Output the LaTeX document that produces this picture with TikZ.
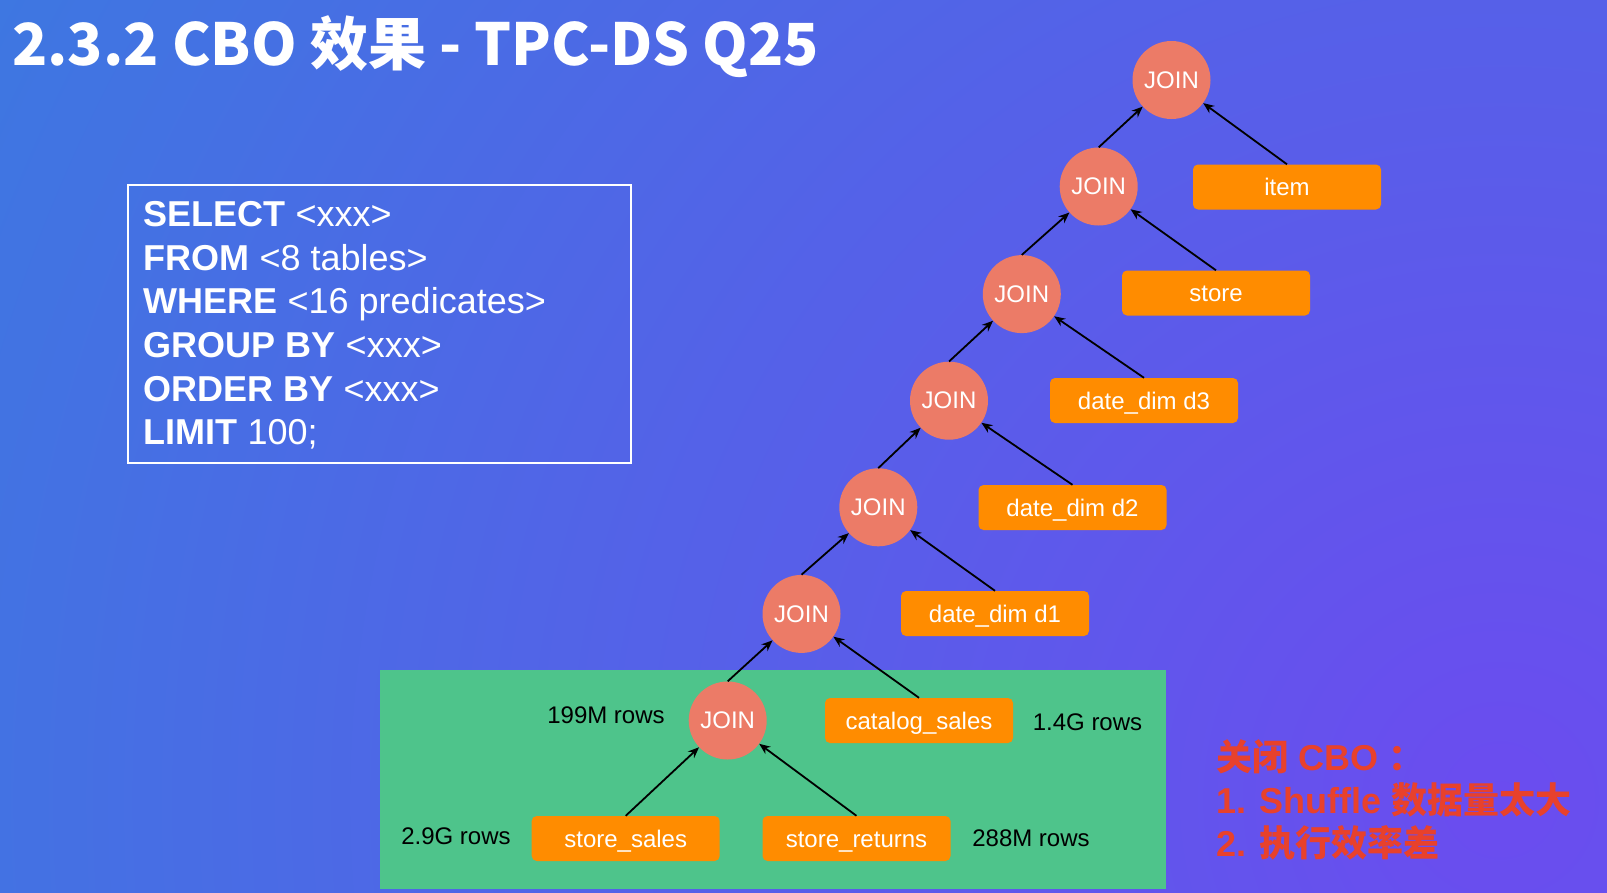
\documentclass[tikz,border=0pt]{standalone}
\usepackage{fontspec}
\setmainfont{Liberation Sans}
\newfontfamily\cjk{Noto Sans CJK SC}
\usetikzlibrary{arrows.meta}
\definecolor{bgblue}{RGB}{46,134,220}
\definecolor{bgpurple}{RGB}{107,76,239}
\definecolor{joinfill}{RGB}{236,123,103}
\definecolor{tblfill}{RGB}{255,140,0}
\definecolor{greenbg}{RGB}{78,196,139}
\definecolor{redtxt}{RGB}{232,65,44}
\tikzset{
  joinnode/.style={circle, fill=joinfill, minimum size=78pt, inner sep=0pt, text=white, font=\fontsize{24}{28}\selectfont},
  tblnode/.style={rectangle, rounded corners=5pt, fill=tblfill, minimum width=188pt, minimum height=45pt, inner sep=0pt, text=white, text height=17pt, text depth=0pt, font=\fontsize{24}{28}\selectfont},
  rowlabel/.style={text=black, inner sep=0pt, font=\fontsize{24}{28}\selectfont},
  sqlline/.style={anchor=base west, text=white, inner sep=0pt, font=\fontsize{36}{43}\selectfont},
  redline/.style={anchor=base west, text=redtxt, inner sep=0pt, font=\fontsize{36}{43}\selectfont\bfseries},
  edge/.style={line width=1.8pt, -{Stealth[length=11pt,width=9pt]}}
}
\begin{document}
\begin{tikzpicture}[x=1pt,y=-1pt]
\useasboundingbox (0,0) rectangle (1607,892);
\begin{scope}
\clip (0,0) rectangle (1607,892);
\shade[inner color=bgpurple, outer color=bgblue] (1500,800) circle (2300pt);
\end{scope}
% title
\node[anchor=base west, inner sep=0pt, text=white, font=\cjk\bfseries\fontsize{58}{64}\selectfont] (title) at (12,65) {2.3.2 CBO 效果 - TPC-DS Q25};
% SQL box
\draw[white, line width=2.5pt] (128,185) rectangle (631,463);
\node[sqlline] (s1) at (143.5,226.7) {\textbf{SELECT} <xxx>};
\node[sqlline] (s2) at (143.5,270.3) {\textbf{FROM} <8 tables>};
\node[sqlline] (s3) at (143.5,313.9) {\textbf{WHERE} <16 predicates>};
\node[sqlline] (s4) at (143.5,357.5) {\textbf{GROUP BY} <xxx>};
\node[sqlline] (s5) at (143.5,401.1) {\textbf{ORDER BY} <xxx>};
\node[sqlline] (s6) at (143.5,444.7) {\textbf{LIMIT} 100;};
% green area
\fill[greenbg] (380,670) rectangle (1166,889);
% joins
\node[joinnode] (j1) at (1171.5,80) {JOIN};
\node[joinnode] (j2) at (1098.7,186.5) {JOIN};
\node[joinnode] (j3) at (1021.8,294.1) {JOIN};
\node[joinnode] (j4) at (949,400.7) {JOIN};
\node[joinnode] (j5) at (878.3,507.3) {JOIN};
\node[joinnode] (j6) at (801.5,613.9) {JOIN};
\node[joinnode] (j7) at (727.7,720.5) {JOIN};
% tables
\node[tblnode] (item) at (1287,187) {item};
\node[tblnode] (store) at (1216,293) {store};
\node[tblnode] (d3) at (1144,400.5) {date\_dim d3};
\node[tblnode] (d2) at (1072.5,507.5) {date\_dim d2};
\node[tblnode] (d1) at (995,613.5) {date\_dim d1};
\node[tblnode] (cs) at (919,720.5) {catalog\_sales};
\node[tblnode] (ss) at (625.7,838.5) {store\_sales};
\node[tblnode] (sr) at (856.5,838.5) {store\_returns};
% row labels
\node[rowlabel] (l199) at (606,715) {199M rows};
\node[rowlabel] (l14) at (1087.5,722.5) {1.4G rows};
\node[rowlabel] (l29) at (456,836) {2.9G rows};
\node[rowlabel] (l288) at (1031,838) {288M rows};
% edges
\draw[edge] (j2.north) -- (j1);
\draw[edge] (item.north) -- (j1);
\draw[edge] (j3.north) -- (j2);
\draw[edge] (store.north) -- (j2);
\draw[edge] (j4.north) -- (j3);
\draw[edge] (d3.north) -- (j3);
\draw[edge] (j5.north) -- (j4);
\draw[edge] (d2.north) -- (j4);
\draw[edge] (j6.north) -- (j5);
\draw[edge] (d1.north) -- (j5);
\draw[edge] (j7.north) -- (j6);
\draw[edge] (cs.north) -- (j6);
\draw[edge] (ss.north) -- (j7);
\draw[edge] (sr.north) -- (j7);
% red note
\node[redline] (r1) at (1216,770) {{\cjk\bfseries 关闭} CBO {\cjk\bfseries ：}};
\node[redline] (r2) at (1216,813) {1. Shuffle {\cjk\bfseries 数据量太大}};
\node[redline] (r3) at (1216,856) {2. {\cjk\bfseries 执行效率差}};
\end{tikzpicture}
\end{document}
